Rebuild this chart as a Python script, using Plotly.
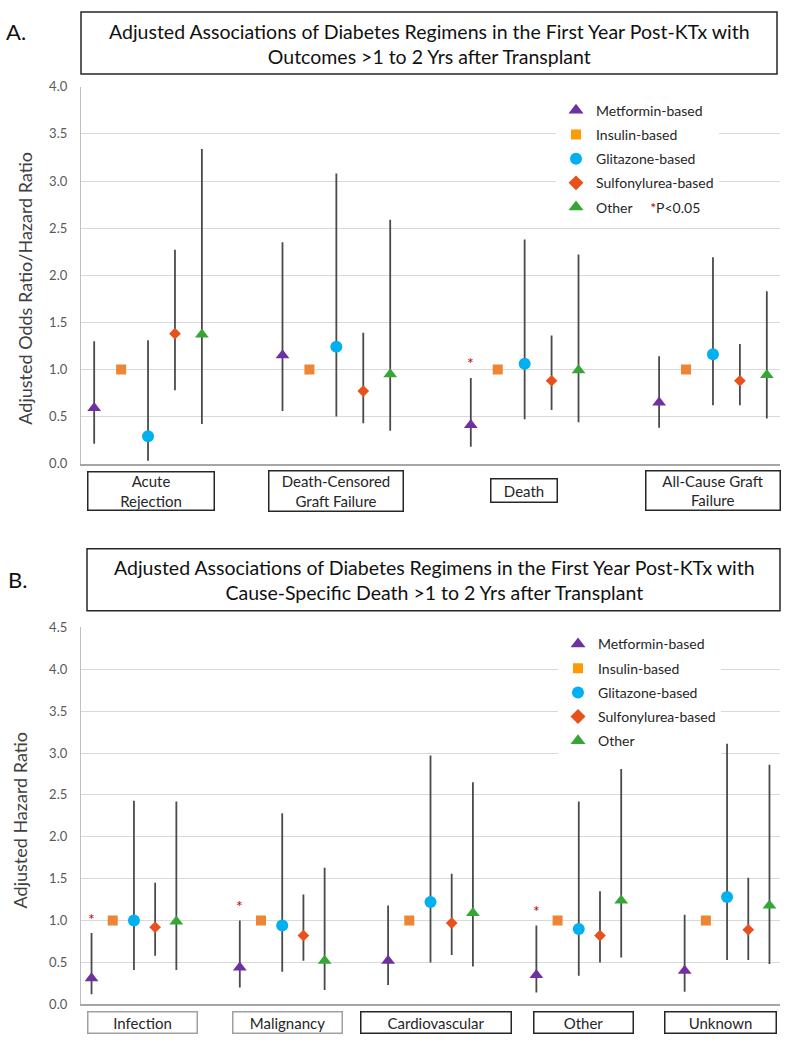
import plotly.graph_objects as go

# ---------------- data ----------------
series_names = ["Metformin-based", "Insulin-based", "Glitazone-based", "Sulfonylurea-based", "Other"]

# Panel A
cats_a = ["Acute<br>Rejection", "Death-Censored<br>Graft Failure", "Death", "All-Cause Graft<br>Failure"]
a_metformin = [0.59, 1.15, 0.41, 0.65]
a_metformin_lo = [0.21, 0.56, 0.18, 0.38]
a_metformin_hi = [1.30, 2.35, 0.91, 1.14]
a_insulin = [1.0, 1.0, 1.0, 1.0]
a_glitazone = [0.29, 1.24, 1.06, 1.16]
a_glitazone_lo = [0.03, 0.50, 0.47, 0.62]
a_glitazone_hi = [1.31, 3.08, 2.38, 2.19]
a_sulfonylurea = [1.38, 0.77, 0.88, 0.88]
a_sulfonylurea_lo = [0.78, 0.43, 0.57, 0.62]
a_sulfonylurea_hi = [2.27, 1.39, 1.36, 1.27]
a_other = [1.37, 0.95, 0.99, 0.94]
a_other_lo = [0.42, 0.35, 0.44, 0.48]
a_other_hi = [3.34, 2.59, 2.22, 1.83]
a_metformin_sig = [False, False, True, False]

# Panel B
cats_b = ["Infection", "Malignancy", "Cardiovascular", "Other", "Unknown"]
b_metformin = [0.31, 0.44, 0.52, 0.35, 0.40]
b_metformin_lo = [0.12, 0.20, 0.23, 0.14, 0.15]
b_metformin_hi = [0.85, 1.00, 1.18, 0.94, 1.07]
b_insulin = [1.0, 1.0, 1.0, 1.0, 1.0]
b_glitazone = [1.00, 0.94, 1.22, 0.90, 1.28]
b_glitazone_lo = [0.41, 0.39, 0.50, 0.34, 0.53]
b_glitazone_hi = [2.43, 2.28, 2.97, 2.42, 3.11]
b_sulfonylurea = [0.92, 0.82, 0.97, 0.82, 0.89]
b_sulfonylurea_lo = [0.58, 0.52, 0.59, 0.50, 0.53]
b_sulfonylurea_hi = [1.45, 1.31, 1.56, 1.35, 1.51]
b_other = [0.99, 0.52, 1.09, 1.24, 1.18]
b_other_lo = [0.41, 0.17, 0.45, 0.56, 0.48]
b_other_hi = [2.42, 1.63, 2.65, 2.81, 2.86]
b_metformin_sig = [True, True, False, True, False]

title_a = "Adjusted Associations of Diabetes Regimens in the First Year Post-KTx with<br>Outcomes &gt;1 to 2 Yrs after Transplant"
title_b = "Adjusted Associations of Diabetes Regimens in the First Year Post-KTx with<br>Cause-Specific Death &gt;1 to 2 Yrs after Transplant"
ytitle_a = "Adjusted Odds Ratio/Hazard Ratio"
ytitle_b = "Adjusted Hazard Ratio"

# ---------------- style ----------------
W, H = 786, 1050
FONT = "Lato"
colors = ["#7030A0", "#EE8434", "#00B0F0", "#E8501C", "#36A636"]
legend_colors = ["#7030A0", "#FF9A00", "#00B0F0", "#E8501C", "#36A636"]
symbols = ["triangle-up", "square", "circle", "diamond", "triangle-up"]
sizes = [12, 10, 12, 9, 12]
legend_sizes = [13, 10, 12, 11.5, 13]
offsets = [-0.286, -0.143, 0.0, 0.143, 0.286]
ERR_COLOR = "#4A4A4A"


def px_x(p):
    return p / W


def px_y(p):
    return 1 - p / H


fig = go.Figure()


def add_panel(vals, los, his, ncat, xa, ya, legend_name, sig, other_name):
    for s in range(5):
        xs = [i + offsets[s] for i in range(ncat)]
        v = vals[s]
        err = None
        if los[s] is not None:
            err = dict(type="data", symmetric=False,
                       array=[h - y for h, y in zip(his[s], v)],
                       arrayminus=[y - l for y, l in zip(v, los[s])],
                       color=ERR_COLOR, thickness=1.8, width=0)
        fig.add_trace(go.Scatter(
            x=xs, y=v, mode="markers", xaxis=xa, yaxis=ya,
            marker=dict(symbol=symbols[s], size=sizes[s], color=colors[s], line=dict(width=0)),
            error_y=err, showlegend=False, hoverinfo="skip"))
        # legend entry
        nm = series_names[s] if s < 4 else other_name
        fig.add_trace(go.Scatter(
            x=[None], y=[None], mode="markers", xaxis=xa, yaxis=ya,
            marker=dict(symbol=symbols[s], size=legend_sizes[s], color=legend_colors[s], line=dict(width=0)),
            name=nm, legend=legend_name, legendgroup=legend_name + str(s), showlegend=True))
    # significance asterisks
    for i in range(ncat):
        if sig[i]:
            fig.add_annotation(x=i + offsets[0], y=his[0][i], xref=xa, yref=ya,
                               text="*", showarrow=False, xanchor="center", yanchor="middle", yshift=15,
                               font=dict(family=FONT, size=16, color="#C00000"))


add_panel([a_metformin, a_insulin, a_glitazone, a_sulfonylurea, a_other],
          [a_metformin_lo, None, a_glitazone_lo, a_sulfonylurea_lo, a_other_lo],
          [a_metformin_hi, None, a_glitazone_hi, a_sulfonylurea_hi, a_other_hi],
          len(cats_a), "x", "y", "legend", a_metformin_sig,
          'Other&nbsp;&nbsp;&nbsp;&nbsp;&nbsp;<span style="color:#C00000">*</span>P&lt;0.05')

add_panel([b_metformin, b_insulin, b_glitazone, b_sulfonylurea, b_other],
          [b_metformin_lo, None, b_glitazone_lo, b_sulfonylurea_lo, b_other_lo],
          [b_metformin_hi, None, b_glitazone_hi, b_sulfonylurea_hi, b_other_hi],
          len(cats_b), "x2", "y2", "legend2", b_metformin_sig, "Other")

# ---------------- axes ----------------
xdom = [px_x(81), px_x(780)]
common_x = dict(showgrid=False, showticklabels=False, ticks="", zeroline=False,
                showline=True, linecolor="#A6A6A6", linewidth=1.5, fixedrange=True)
common_y = dict(dtick=0.5, tickformat=".1f", showgrid=True, gridcolor="#D9D9D9", gridwidth=1.3,
                zeroline=False, showline=True, linecolor="#BFBFBF", linewidth=1.3, ticks="",
                ticklabelstandoff=10, tickfont=dict(family=FONT, size=13, color="#595959"),
                fixedrange=True)

fig.update_layout(
    xaxis=dict(domain=xdom, range=[-0.356, 3.356], anchor="y", **common_x),
    yaxis=dict(domain=[px_y(462.7), px_y(80)], range=[0, 4], anchor="x", **common_y),
    xaxis2=dict(domain=xdom, range=[-0.357, 4.357], anchor="y2", **common_x),
    yaxis2=dict(domain=[px_y(1011.7), px_y(629)], range=[0, 4.5], anchor="x2", **common_y),
)

leg_common = dict(bgcolor="white", borderwidth=0, font=dict(family=FONT, size=14, color="#262626"),
                  traceorder="grouped", tracegroupgap=3, xanchor="left", yanchor="top", itemwidth=30)
fig.update_layout(
    legend=dict(x=px_x(556), y=px_y(88), **leg_common),
    legend2=dict(x=px_x(558), y=px_y(630), **leg_common),
)

# ---------------- title boxes ----------------
fig.add_shape(type="rect", xref="paper", yref="paper", x0=px_x(81), x1=px_x(777), y0=px_y(67), y1=px_y(4),
              line=dict(color="#262626", width=1.5), fillcolor="white")
fig.add_shape(type="rect", xref="paper", yref="paper", x0=px_x(87), x1=px_x(780), y0=px_y(612), y1=px_y(549),
              line=dict(color="#262626", width=1.5), fillcolor="white")
fig.add_annotation(x=px_x(429), y=px_y(37), xref="paper", yref="paper", text=title_a, showarrow=False,
                   xanchor="center", yanchor="middle",
                   font=dict(family=FONT, size=19.5, color="#111111"), align="center")
fig.add_annotation(x=px_x(434), y=px_y(581), xref="paper", yref="paper", text=title_b, showarrow=False,
                   xanchor="center", yanchor="middle",
                   font=dict(family=FONT, size=19.5, color="#111111"), align="center")
fig.add_annotation(x=px_x(16), y=px_y(24), xref="paper", yref="paper", text="A.", showarrow=False,
                   xanchor="center", yanchor="middle",
                   font=dict(family=FONT, size=22, color="#111111"))
fig.add_annotation(x=px_x(17), y=px_y(580), xref="paper", yref="paper", text="B.", showarrow=False,
                   xanchor="center", yanchor="middle",
                   font=dict(family=FONT, size=22, color="#111111"))

# y-axis titles
fig.add_annotation(x=px_x(25), y=px_y(285), xref="paper", yref="paper", text=ytitle_a, showarrow=False,
                   xanchor="center", yanchor="middle",
                   textangle=-90, font=dict(family=FONT, size=18, color="#404040"))
fig.add_annotation(x=px_x(20), y=px_y(825), xref="paper", yref="paper", text=ytitle_b, showarrow=False,
                   xanchor="center", yanchor="middle",
                   textangle=-90, font=dict(family=FONT, size=18, color="#404040"))

# ---------------- category boxes ----------------
box_a_w = [125, 133, 65, 133]
box_a_h = [37, 39, 22, 38]
box_a_shift = [3, 0, -1, 0]
for i, c in enumerate(cats_a):
    fig.add_annotation(x=i, y=px_y(490), xref="x", yref="paper", text=c, showarrow=False,
                       xanchor="center", yanchor="middle",
                       width=box_a_w[i], height=box_a_h[i], xshift=box_a_shift[i],
                       bordercolor="#262626", borderwidth=1.5, borderpad=0, bgcolor="white",
                       font=dict(family=FONT, size=15, color="#262626"), align="center")

box_b_w = [108, 108, 149, 98, 110]
box_b_shift = [9, 5, 5, 5, -7]
box_b_border = ["#A0A0A0", "#A0A0A0", "#262626", "#262626", "#262626"]
for i, c in enumerate(cats_b):
    fig.add_annotation(x=i, y=px_y(1030.5), xref="x2", yref="paper", text=c, showarrow=False,
                       xanchor="center", yanchor="middle",
                       width=box_b_w[i], height=20, xshift=box_b_shift[i],
                       bordercolor=box_b_border[i], borderwidth=1.5, borderpad=0, bgcolor="white",
                       font=dict(family=FONT, size=15, color="#262626"), align="center")

fig.update_layout(width=W, height=H, margin=dict(l=0, r=0, t=0, b=0),
                  paper_bgcolor="white", plot_bgcolor="white", showlegend=True,
                  font=dict(family=FONT))

fig.write_html("out.html", config={"displayModeBar": False},
               post_script="document.body.style.margin='0';document.body.style.overflow='hidden';")
